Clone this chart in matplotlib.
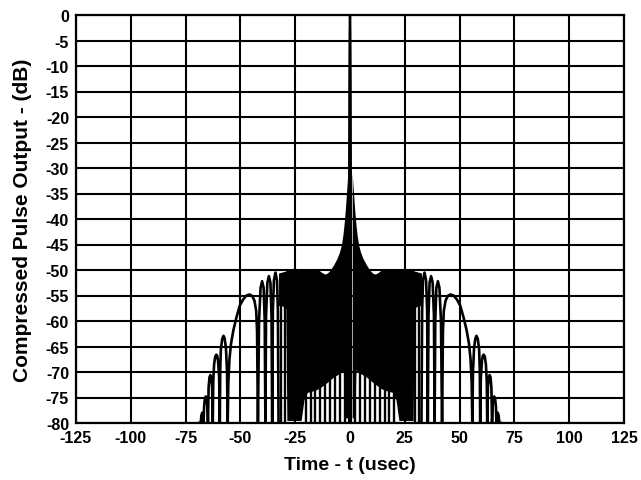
import matplotlib
matplotlib.use("Agg")
import matplotlib.pyplot as plt

plt.rcParams['font.family'] = ['Liberation Sans', 'DejaVu Sans']
plt.rcParams['font.weight'] = 'bold'
plt.rcParams['axes.unicode_minus'] = False

# positive-time half of the compressed pulse (the response is symmetric in t)
# main lobe
main_t = [0.0, 0.12, 0.25, 0.35, 0.42]
main_db = [0.0, -3.0, -12.0, -28.0, -80.0]

# dense sidelobe block: upper and lower edge of the solid black area
dense_t = [1.0, 1.3, 1.7, 2.1, 2.4, 2.7, 3.2, 3.9, 4.8, 6.0, 7.5, 9.0, 10.3, 11.5,
           12.8, 14.0, 16.0, 19.5, 21.0, 22.3, 28.8, 29.3, 31.0, 32.6]
dense_top = [-31.0, -33.0, -35.5, -38.0, -39.5, -41.0, -43.0, -45.0, -46.5, -47.8,
             -49.0, -50.0, -50.6, -50.8, -50.5, -50.1, -50.0, -50.0, -50.0, -50.0,
             -50.0, -50.2, -50.4, -50.6]
dense_low = [-79.0, -79.0, -79.0, -79.0, -75.0, -69.5, -69.8, -70.0, -70.3, -70.6,
             -71.0, -71.5, -72.0, -72.4, -72.8, -73.2, -73.6, -74.0, -75.5, -79.5,
             -79.5, -57.5, -57.0, -57.0]

# deep nulls reaching the bottom below the dense block
null_t = [2.4, 4.6, 6.9, 9.1, 11.4, 13.7, 16.0, 18.0, 20.0, 29.8, 31.3]

# outer sidelobes
lobe_t = [32.6, 32.9, 33.3, 34.0, 34.7, 35.2, 35.5, 35.8, 36.3, 37.0, 37.7, 38.3,
          38.6, 38.9, 39.4, 40.1, 40.8, 41.5, 42.0, 42.4, 42.8, 43.6, 44.6, 45.8,
          47.2, 48.8, 50.3, 51.8, 53.2, 54.3, 55.0, 55.5, 55.8, 56.1, 56.6, 57.2,
          57.7, 58.3, 58.9, 59.2, 59.4, 59.7, 60.2, 60.6, 61.0, 61.5, 62.0, 62.4,
          62.6, 62.9, 63.3, 63.7, 64.1, 64.5, 64.8, 65.1, 65.5, 65.8, 66.2, 66.6,
          66.8, 67.1, 67.4, 67.8, 68.1, 68.8]
lobe_db = [-80, -58, -52, -50.5, -52, -58, -80, -59, -52.5, -51.2, -52.5, -59,
           -80, -60, -53.5, -52.2, -53.5, -60, -80, -62, -58, -56, -55.1, -54.8,
           -55.0, -55.8, -57.0, -59.3, -61.8, -64.5, -67.5, -72, -80, -70, -65.3, -63.4,
           -62.9, -63.5, -65.5, -69.5, -80, -71, -67.8, -66.8, -66.6, -67.0, -68.5, -72,
           -80, -73, -71, -70.6, -71, -73, -80, -76.5, -75, -74.8, -75.2, -77,
           -80, -78.5, -78, -78.5, -80, -80]

x_ticks = list(range(-125, 126, 25))
y_ticks = list(range(-80, 1, 5))


def mirror(t, v):
    return [-x for x in t[::-1]], v[::-1]


fig = plt.figure(figsize=(6.41, 4.81), dpi=100)
ax = fig.add_axes([76 / 641, 57 / 481, 548 / 641, 408 / 481])

# main lobe
mt, mv = mirror(main_t, main_db)
ax.plot(mt[:-1] + main_t, mv[:-1] + main_db, color='black', lw=1.7)

# dense block, both sides
for sgn in (1, -1):
    ax.fill_between([sgn * x for x in dense_t], dense_low, dense_top,
                    color='black', lw=0)
    ax.vlines([sgn * x for x in null_t], -80, -56, color='black', lw=1.7)

# outer lobes, both sides
ax.plot(lobe_t, lobe_db, color='black', lw=1.9)
lt, lv = mirror(lobe_t, lobe_db)
ax.plot(lt, lv, color='black', lw=1.9)

ax.set_xlim(-125, 125)
ax.set_ylim(-80, 0)
ax.set_xticks(x_ticks)
ax.set_yticks(y_ticks)
ax.set_xticklabels([str(v) for v in x_ticks])
ax.set_yticklabels([str(v) for v in y_ticks])
ax.tick_params(length=0, labelsize=11.5, pad=5)
for lab in ax.get_xticklabels() + ax.get_yticklabels():
    lab.set_fontweight('bold')

ax.grid(True, color='black', lw=1.5)
ax.set_axisbelow(True)
for sp in ax.spines.values():
    sp.set_linewidth(1.6)

ax.set_xlabel('Time - t (usec)', fontsize=14, fontweight='bold')
ax.set_ylabel('Compressed Pulse Output - (dB)', fontsize=15, fontweight='bold')
ax.xaxis.set_label_coords(0.5, -0.08)
ax.yaxis.set_label_coords(-0.08, 0.5)

fig.savefig('out.png', dpi=100)
